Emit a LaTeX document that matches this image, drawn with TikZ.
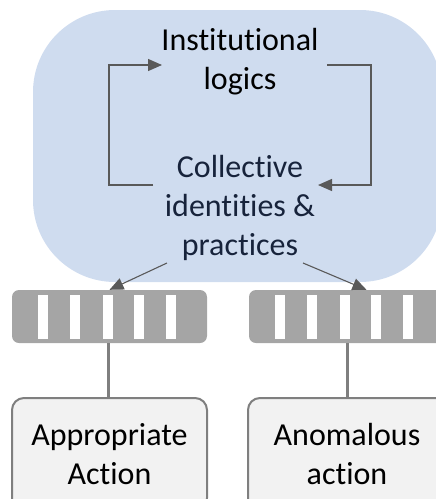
\documentclass[tikz,border=0pt]{standalone}
\usepackage{fontspec}
\setmainfont[Ligatures=NoCommon]{Carlito}
\usetikzlibrary{arrows.meta}
\definecolor{cloudblue}{HTML}{CFDCEF}
\definecolor{bargray}{HTML}{A5A5A5}
\definecolor{linegray}{HTML}{595959}
\definecolor{edgegray}{HTML}{7F7F7F}
\definecolor{boxfill}{HTML}{F2F2F2}
\definecolor{navytext}{HTML}{17233B}
\tikzstyle{cloud}=[rectangle, fill=cloudblue, rounded corners=82pt]
\tikzstyle{label}=[align=center, inner sep=0pt, font=\fontsize{32}{39}\selectfont]
\tikzstyle{filter}=[rectangle, fill=bargray, rounded corners=7pt, minimum width=195pt, minimum height=53pt, inner sep=0pt]
\tikzstyle{action}=[rectangle, draw=edgegray, line width=2pt, fill=boxfill, rounded corners=12pt, minimum width=195pt, minimum height=112pt, inner sep=0pt, align=center, font=\fontsize{32}{39}\selectfont]
\tikzstyle{feedback}=[draw=linegray, line width=1.3pt, -{Triangle[length=14pt,width=12pt]}]
\tikzstyle{spread}=[draw=linegray, line width=1.1pt, -{Triangle[length=14pt,width=12pt]}]
\tikzstyle{stem}=[draw=edgegray, line width=3pt]

\begin{document}
\begin{tikzpicture}[x=1pt,y=-1pt]
  \clip (0,0) rectangle (436,499);
  \fill[cloud] (33,10) rectangle (442,282);
  \node[label] (logics) at (240,62) {Institutional\\logics};
  \node[label, text=navytext] (practices) at (240,208) {Collective\\identities \&\\practices};
  % feedback loop
  \coordinate (loopL) at (153,185);
  \coordinate (loopLtip) at (162,65);
  \coordinate (loopR) at (327,65);
  \coordinate (loopRtip) at (318,185);
  \draw[feedback] (loopL) -| (109,65) -- (loopLtip);
  \draw[feedback] (loopR) -| (371,185) -- (loopRtip);
  % filters
  \node[filter] (barL) at (109.5,316.5) {};
  \node[filter, minimum width=205pt] (barR) at (351.5,316.5) {};
  \foreach \b in {barL,barR}
    \foreach \s in {31,63,96,127,159}
      \fill[white] ([xshift=\s pt-5pt, yshift=-5pt]\b.north west) rectangle ++(10,44);
  \coordinate (fromL) at (167,263);
  \coordinate (fromR) at (303,263);
  \draw[spread] (fromL) -- (barL.north);
  \draw[spread] (fromR) -- ([xshift=15pt]barR.north);
  % actions
  \node[action] (actL) at (109.5,454) {Appropriate\\Action};
  \node[action, minimum width=205pt] (actR) at (350.5,454) {};
  \node[label] (anomalous) at (347,454) {Anomalous\\action};
  \draw[stem] (barL.south -| 108,0) -- (actL.north -| 108,0);
  \draw[stem] (barR.south -| 347,0) -- (actR.north -| 347,0);
\end{tikzpicture}
\end{document}
